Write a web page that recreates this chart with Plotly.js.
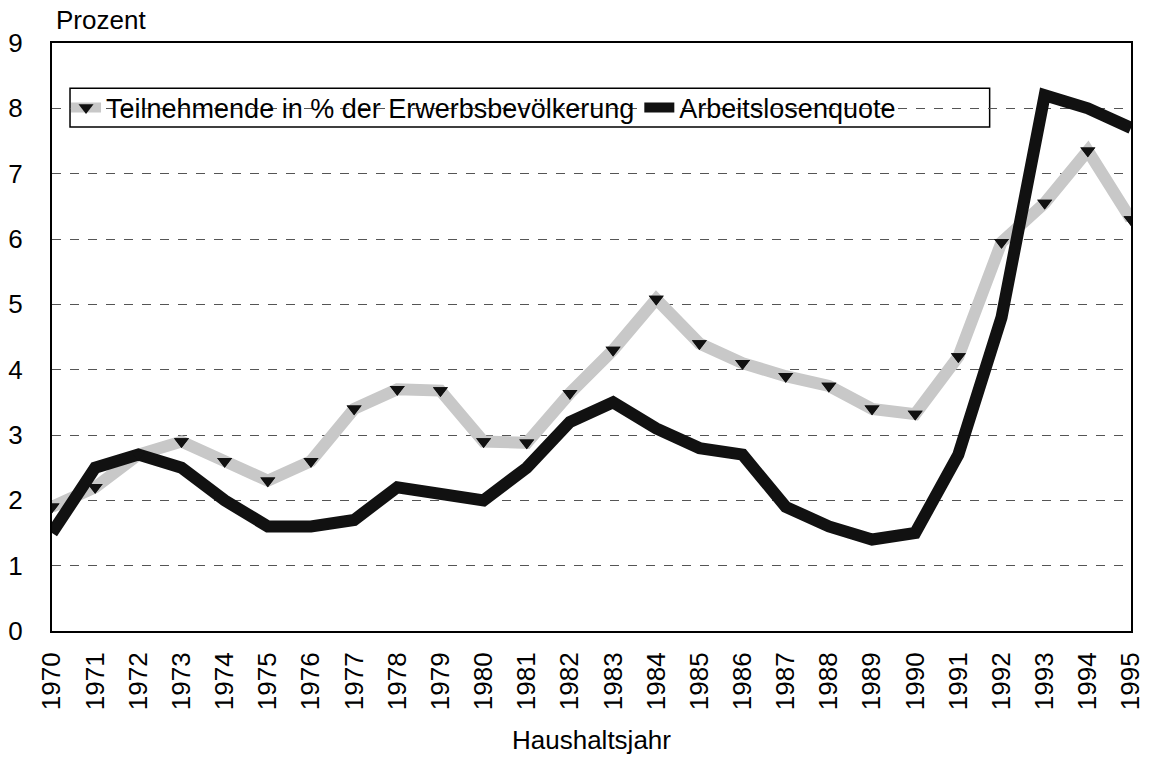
<!DOCTYPE html>
<html>
<head>
<meta charset="utf-8">
<script src="https://cdn.plot.ly/plotly-3.0.1.min.js"></script>
<style>html,body{margin:0;padding:0;background:#fff;}#chart{width:1149px;height:760px;}</style>
</head>
<body>
<div id="chart"></div>
<script>
const years = [1970,1971,1972,1973,1974,1975,1976,1977,1978,1979,1980,1981,1982,1983,1984,1985,1986,1987,1988,1989,1990,1991,1992,1993,1994,1995];
const teilnehmende = [1.9,2.2,2.7,2.9,2.6,2.3,2.6,3.4,3.7,3.68,2.9,2.88,3.64,4.3,5.08,4.4,4.1,3.9,3.75,3.4,3.32,4.2,5.95,6.55,7.35,6.3];
const arbeitslosenquote = [1.5,2.5,2.7,2.5,2.0,1.6,1.6,1.7,2.2,2.1,2.0,2.5,3.2,3.5,3.1,2.8,2.7,1.9,1.6,1.4,1.5,2.7,4.8,8.2,8.0,7.7];
const seriesNames = ["Teilnehmende in % der Erwerbsbevölkerung", "Arbeitslosenquote"];
const yTicks = [0,1,2,3,4,5,6,7,8,9];

const font = "Liberation Sans, Arial, sans-serif";
const traces = [
  {x: years, y: teilnehmende, name: seriesNames[0], type: "scatter", mode: "lines+markers",
   line: {color: "#c8c8c8", width: 12},
   marker: {symbol: "triangle-down", size: 13, color: "#111111", line: {width: 0}}},
  {x: years, y: arbeitslosenquote, name: seriesNames[1], type: "scatter", mode: "lines",
   line: {color: "#111111", width: 12}},
  {x: years, y: teilnehmende, name: seriesNames[0], type: "scatter", mode: "markers", showlegend: false,
   marker: {symbol: "triangle-down", size: 13, color: "#111111", line: {width: 0}}}
];

const layout = {
  width: 1149, height: 760,
  margin: {l: 52, r: 18, t: 43, b: 129},
  paper_bgcolor: "#fff", plot_bgcolor: "#fff",
  font: {family: font, color: "#000", size: 26},
  showlegend: true,
  legend: {orientation: "h", x: 0.013, xanchor: "left", y: 0.8895, yanchor: "middle",
           bgcolor: "rgba(0,0,0,0)", borderwidth: 0, font: {family: font, size: 27, color: "#000"},
           itemwidth: 30, tracegroupgap: 0},
  xaxis: {range: [1970, 1995], tickmode: "array", tickvals: years, ticktext: years.map(String),
          tickangle: -90, showgrid: false, zeroline: false, showline: true, linecolor: "#000", linewidth: 2,
          mirror: true, ticks: "", ticklabelstandoff: 9, tickfont: {family: font, size: 26, color: "#000"},
          title: {text: "Haushaltsjahr", font: {family: font, size: 26, color: "#000"}, standoff: 22}},
  yaxis: {range: [0, 9], tickmode: "array", tickvals: yTicks, ticktext: yTicks.map(String),
          showgrid: true, gridcolor: "#555", griddash: "dash", gridwidth: 1, zeroline: false,
          showline: true, linecolor: "#000", linewidth: 2, mirror: true, ticks: "",
          tickfont: {family: font, size: 26, color: "#000"}, ticklabelstandoff: 22},
  shapes: [{type: "rect", xref: "paper", yref: "paper", x0: 0.0167, x1: 0.869, y0: 0.857, y1: 0.923,
            line: {color: "#000", width: 1.5}, fillcolor: "#fff", layer: "between"}],
  annotations: [{text: "Prozent", xref: "paper", yref: "paper", x: 0.002, y: 1.0, xanchor: "left", yanchor: "bottom",
                 yshift: 6, showarrow: false, font: {family: font, size: 26, color: "#000"}}]
};

Plotly.newPlot("chart", traces, layout, {displayModeBar: false, staticPlot: true});
</script>
</body>
</html>
